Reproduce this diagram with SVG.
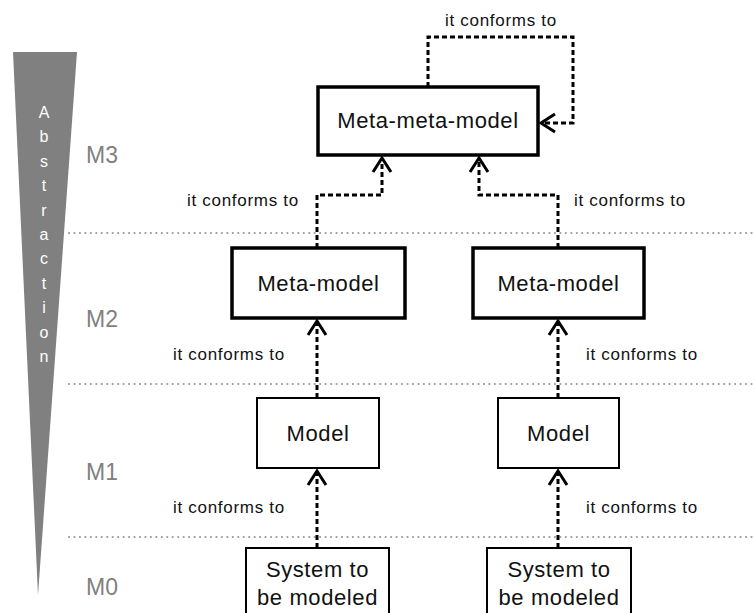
<svg xmlns="http://www.w3.org/2000/svg" width="753" height="613" viewBox="0 0 753 613">
<style>
.bg{fill:#fff}
.tri{fill:#808080}
.abs{font-family:"Liberation Sans",Arial,sans-serif;font-size:16px;fill:#fff;text-anchor:middle}
.lvl{font-family:"Liberation Sans",Arial,sans-serif;font-size:23px;fill:#808080}
.sep{stroke:#9a9a9a;stroke-width:2.2;stroke-linecap:round;stroke-dasharray:0.01 5.45;fill:none}
.thick{fill:#fff;stroke:#000;stroke-width:3.5}
.thin{fill:#fff;stroke:#000;stroke-width:2}
.nt{font-family:"Liberation Sans",Arial,sans-serif;font-size:22px;letter-spacing:0.6px;fill:#111;text-anchor:middle}
.lbl{font-family:"Liberation Sans",Arial,sans-serif;font-size:17px;letter-spacing:0.7px;fill:#111}
.con{fill:none;stroke:#000;stroke-width:3;stroke-dasharray:5 3;marker-end:url(#chev)}
</style>
<defs>
<marker id="chev" markerUnits="userSpaceOnUse" viewBox="-17 -12 20 24" markerWidth="20" markerHeight="24" refX="0" refY="0" orient="auto">
<path d="M-14,-9 L0,0 L-14,9" fill="none" stroke="#000" stroke-width="3" stroke-dasharray="none"/>
</marker>
</defs>
<rect class="bg" x="0" y="0" width="753" height="613"/>
<g id="abstraction">
<polygon class="tri" points="13,52 77,52 38,595"/>
<text class="abs" x="44" y="118">A</text>
<text class="abs" x="44" y="142.4">b</text>
<text class="abs" x="44" y="166.8">s</text>
<text class="abs" x="44" y="191.2">t</text>
<text class="abs" x="44" y="215.6">r</text>
<text class="abs" x="44" y="240">a</text>
<text class="abs" x="44" y="264.4">c</text>
<text class="abs" x="44" y="288.8">t</text>
<text class="abs" x="44" y="313.2">i</text>
<text class="abs" x="44" y="337.6">o</text>
<text class="abs" x="44" y="362">n</text>
</g>
<g id="levels">
<text class="lvl" x="86" y="163">M3</text>
<text class="lvl" x="86" y="327">M2</text>
<text class="lvl" x="86" y="480">M1</text>
<text class="lvl" x="86" y="595">M0</text>
<line class="sep" x1="69" y1="233" x2="753" y2="233"/>
<line class="sep" x1="69" y1="384" x2="753" y2="384"/>
<line class="sep" x1="69" y1="537" x2="753" y2="537"/>
</g>
<g id="connectors">
<path class="con" d="M428,87 V37 H573 V123 H541"/>
<path class="con" d="M317,248 V195 H382 V158"/>
<path class="con" d="M558,248 V195 H479 V158"/>
<path class="con" d="M317,398 V321"/>
<path class="con" d="M558,398 V321"/>
<path class="con" d="M317,548 V471"/>
<path class="con" d="M558,548 V471"/>
<text class="lbl" x="445" y="26">it conforms to</text>
<text class="lbl" x="187" y="206">it conforms to</text>
<text class="lbl" x="574" y="206">it conforms to</text>
<text class="lbl" x="173" y="360">it conforms to</text>
<text class="lbl" x="586" y="360">it conforms to</text>
<text class="lbl" x="173" y="513">it conforms to</text>
<text class="lbl" x="586" y="513">it conforms to</text>
</g>
<g id="metametamodel">
<rect class="thick" x="318" y="87" width="220" height="68"/>
<text class="nt" x="428" y="128">Meta-meta-model</text>
</g>
<g id="metamodel-left">
<rect class="thick" x="232" y="248" width="173" height="70"/>
<text class="nt" x="318.5" y="291">Meta-model</text>
</g>
<g id="metamodel-right">
<rect class="thick" x="473" y="248" width="171" height="70"/>
<text class="nt" x="558.5" y="291">Meta-model</text>
</g>
<g id="model-left">
<rect class="thin" x="257" y="398" width="122" height="70"/>
<text class="nt" x="318" y="441">Model</text>
</g>
<g id="model-right">
<rect class="thin" x="498" y="398" width="121" height="70"/>
<text class="nt" x="558.5" y="441">Model</text>
</g>
<g id="system-left">
<rect class="thin" x="246" y="548" width="143" height="80"/>
<text class="nt" x="317.5" y="577">System to</text>
<text class="nt" x="317.5" y="605">be modeled</text>
</g>
<g id="system-right">
<rect class="thin" x="487" y="548" width="144" height="80"/>
<text class="nt" x="559" y="577">System to</text>
<text class="nt" x="559" y="605">be modeled</text>
</g>
</svg>
